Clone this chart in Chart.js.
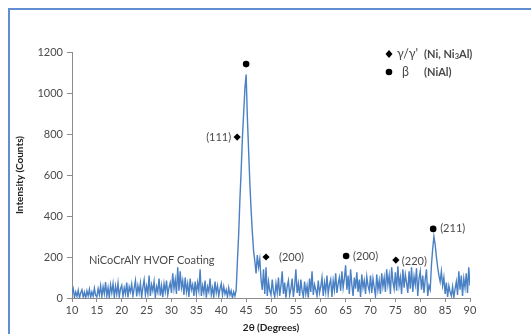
<!DOCTYPE html>
<html>
<head>
<meta charset="utf-8">
<script src="https://cdn.jsdelivr.net/npm/chart.js@4.4.1/dist/chart.umd.min.js"></script>
<style>
  html, body { margin: 0; padding: 0; background: #fff; }
  #wrap { position: relative; width: 531px; height: 334px; overflow: hidden; }
  #frame { position: absolute; left: 8px; top: 8px; width: 700px; height: 500px;
           border-left: 2px solid #5f8fd2; border-top: 2px solid #5f8fd2; }
  canvas { position: absolute; left: 0; top: 0; }
</style>
</head>
<body>
<div id="wrap">
  <div id="frame"></div>
  <canvas id="xrd" width="531" height="334"></canvas>
</div>
<script>
// scan: 10 to 90 degrees, 0.25 degree step
const angleStart = 10;
const angleStep = 0.25;
const counts = [
  22, 45, 2, 30, 8, 38, 0, 25, 40, 5, 28, 0, 35, 10, 42, 4, 30, 8, 48, 12,
  5, 45, 15, 60, 6, 55, 20, 78, 8, 50, 2, 65, 25, 70, 5, 58, 18, 72, 6, 45,
  62, 8, 50, 20, 75, 3, 55, 30, 68, 10, 48, 85, 8, 60, 25, 72, 4, 52, 88, 15,
  58, 20, 110, 10, 65, 35, 80, 5, 55, 28, 95, 12, 60, 4, 70, 30, 85, 15, 50, 75,
  25, 120, 45, 90, 20, 150, 35, 130, 50, 85, 15, 100, 30, 70, 5, 95, 40, 65, 10, 80,
  20, 75, 35, 140, 10, 60, 25, 85, 2, 55, 30, 95, 15, 50, 5, 80, 25, 60, 10, 45,
  70, 15, 55, 20, 40, 5, 50, 15, 35, 0, 30, 10, 40, 180, 310, 480, 620, 780, 900, 1020,
  1090, 880, 720, 560, 430, 320, 230, 180, 120, 210, 150, 190, 90, 40, 140, 20, 150, 10, 80, 35,
  15, 90, 30, 5, 70, 25, 100, 10, 60, 130, 20, 75, 2, 55, 85, 15, 45, 95, 5, 60,
  140, 25, 70, 10, 90, 35, 5, 80, 20, 60, 2, 95, 30, 130, 15, 65, 40, 10, 85, 25,
  55, 100, 10, 75, 30, 110, 20, 65, 90, 5, 85, 40, 120, 25, 70, 100, 35, 130, 50, 95,
  160, 40, 110, 20, 140, 65, 10, 100, 45, 125, 30, 90, 5, 115, 50, 85, 20, 105, 60, 35,
  110, 25, 95, 50, 10, 115, 40, 85, 20, 120, 55, 100, 30, 140, 65, 110, 20, 150, 80, 45,
  125, 35, 155, 60, 100, 20, 140, 50, 115, 75, 25, 130, 45, 150, 30, 105, 65, 145, 10, 95,
  130, 40, 110, 25, 90, 140, 10, 60, 40, 160, 240, 300, 260, 200, 150, 110, 80, 130, 60, 100,
  20, 75, 5, 60, 30, 10, 55, 2, 45, 80, 15, 130, 40, 110, 10, 95, 50, 120, 25, 150,
  60
];

// peak markers
const gammaAngles = [43.2, 49.0, 75.1];
const gammaCounts = [785, 200, 185];
const gammaLabels = ['(111)', '(200)', '(220)'];
const betaAngles = [45.0, 65.1, 82.6];
const betaCounts = [1141, 205, 337];
const betaLabels = ['', '(200)', '(211)'];

const xTicks = [10, 15, 20, 25, 30, 35, 40, 45, 50, 55, 60, 65, 70, 75, 80, 85, 90];
const yTicks = [0, 200, 400, 600, 800, 1000, 1200];

const font = 'Lato, "Open Sans", sans-serif';
const textColor = '#4a4a4a';

const scanPoints = counts.map((c, i) => ({ x: angleStart + i * angleStep, y: c }));
const gammaPoints = gammaAngles.map((a, i) => ({ x: a, y: gammaCounts[i] }));
const betaPoints = betaAngles.map((a, i) => ({ x: a, y: betaCounts[i] }));

const labelsPlugin = {
  id: 'peakLabels',
  afterDatasetsDraw(chart) {
    const ctx = chart.ctx;
    const xs = chart.scales.x, ys = chart.scales.y;
    ctx.save();
    ctx.fillStyle = textColor;
    ctx.font = '11px ' + font;
    ctx.textBaseline = 'middle';
    gammaLabels.forEach((t, i) => {
      const px = xs.getPixelForValue(gammaAngles[i]);
      const py = ys.getPixelForValue(gammaCounts[i]);
      if (i === 0) { ctx.textAlign = 'right'; ctx.fillText(t, px - 6, py); }
      else if (i === 1) { ctx.textAlign = 'left'; ctx.fillText(t, px + 13, py); }
      else { ctx.textAlign = 'left'; ctx.fillText(t, px + 6, py + 1); }
    });
    betaLabels.forEach((t, i) => {
      if (!t) return;
      const px = xs.getPixelForValue(betaAngles[i]);
      const py = ys.getPixelForValue(betaCounts[i]);
      ctx.textAlign = 'left';
      ctx.fillText(t, px + 7, py);
    });
    // sample name
    ctx.textAlign = 'left';
    ctx.fillText('NiCoCrAlY HVOF Coating', xs.getPixelForValue(13.4), ys.getPixelForValue(185));

    // legend (top right)
    ctx.fillStyle = '#000';
    ctx.beginPath();
    ctx.moveTo(389, 50); ctx.lineTo(392.5, 54); ctx.lineTo(389, 58); ctx.lineTo(385.5, 54);
    ctx.closePath(); ctx.fill();
    ctx.beginPath(); ctx.arc(389, 72, 3.3, 0, Math.PI * 2); ctx.fill();
    ctx.fillStyle = textColor;
    ctx.font = '12.5px ' + font;
    ctx.fillText('\u03b3/\u03b3\'', 397, 54);
    ctx.fillText('\u03b2', 402, 72);
    ctx.font = 'bold 11px ' + font;
    ctx.fillText('(Ni, Ni', 424, 54);
    let w = ctx.measureText('(Ni, Ni').width;
    ctx.font = 'bold 7.5px ' + font;
    ctx.fillText('3', 424 + w, 57);
    let w2 = ctx.measureText('3').width;
    ctx.font = 'bold 11px ' + font;
    ctx.fillText('Al)', 424 + w + w2, 54);
    ctx.fillText('(NiAl)', 424, 72);
    ctx.restore();
  }
};

new Chart(document.getElementById('xrd'), {
  type: 'line',
  data: {
    datasets: [
      {
        label: 'scan',
        data: scanPoints,
        borderColor: '#4a80c4',
        borderWidth: 1.4,
        pointRadius: 0,
        tension: 0,
        order: 3
      },
      {
        type: 'scatter',
        label: 'gamma',
        data: gammaPoints,
        pointStyle: 'rectRot',
        pointRadius: 3.6,
        backgroundColor: '#000',
        borderColor: '#000',
        borderWidth: 0,
        order: 1
      },
      {
        type: 'scatter',
        label: 'beta',
        data: betaPoints,
        pointStyle: 'circle',
        pointRadius: 3.3,
        backgroundColor: '#000',
        borderColor: '#000',
        borderWidth: 0,
        order: 1
      }
    ]
  },
  options: {
    responsive: false,
    animation: false,
    layout: { padding: { left: 10, top: 52, right: 61, bottom: 0 } },
    plugins: { legend: { display: false }, tooltip: { enabled: false } },
    scales: {
      x: {
        type: 'linear',
        min: 10, max: 90,
        afterBuildTicks: s => { s.ticks = xTicks.map(v => ({ value: v })); },
        afterFit: s => { s.height = 36; },
        ticks: { color: textColor, font: { family: font, size: 11 }, padding: 2, maxRotation: 0,
                 callback: v => String(v) },
        grid: { drawOnChartArea: false, tickLength: 4, color: '#8c8c8c' },
        border: { color: '#8c8c8c' },
        title: { display: true, text: '2\u03b8 (Degrees)', color: '#222',
                 font: { family: font, size: 10, weight: 'bold' }, padding: { top: 0, bottom: 0 } }
      },
      y: {
        min: 0, max: 1200,
        afterBuildTicks: s => { s.ticks = yTicks.map(v => ({ value: v })); },
        afterFit: s => { s.width = 62; },
        ticks: { color: textColor, font: { family: font, size: 11 }, padding: 4,
                 callback: v => String(v) },
        grid: { drawOnChartArea: false, tickLength: 5, color: '#8c8c8c' },
        border: { color: '#8c8c8c' },
        title: { display: true, text: 'Intensity (Counts)', color: '#222',
                 font: { family: font, size: 10, weight: 'bold' }, padding: { top: 4, bottom: 0 } }
      }
    }
  },
  plugins: [labelsPlugin]
});
</script>
</body>
</html>
